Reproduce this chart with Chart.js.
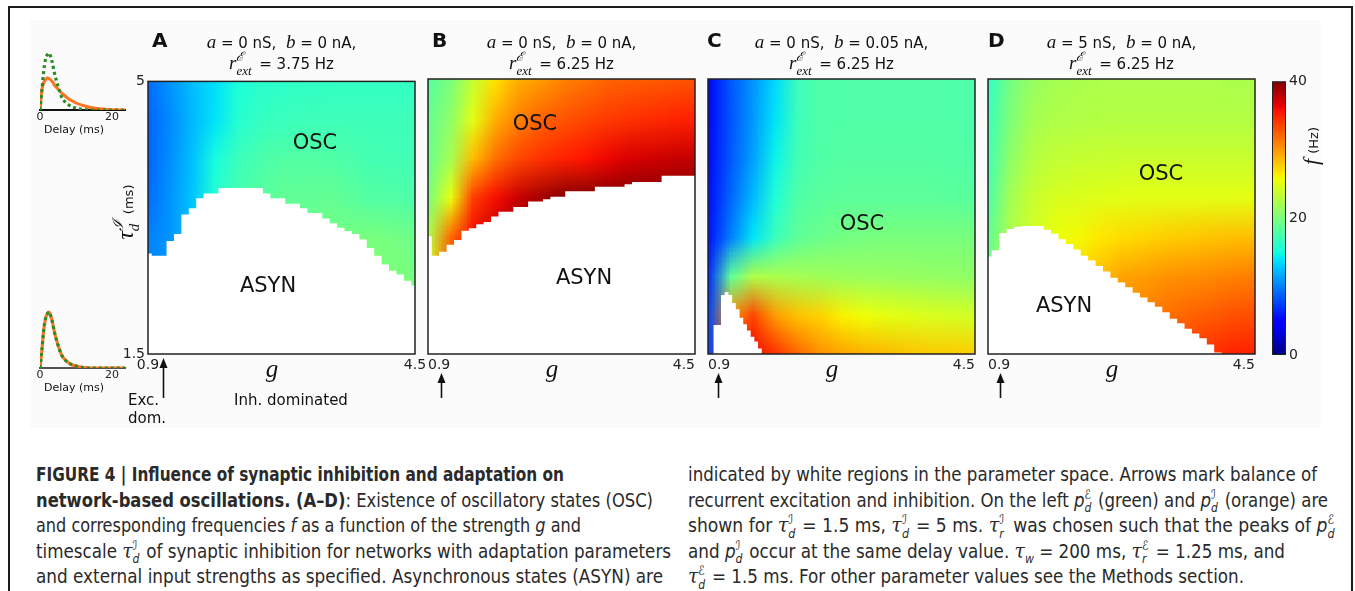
<!DOCTYPE html>
<html>
<head>
<meta charset="utf-8">
<script src="https://cdn.jsdelivr.net/npm/chart.js"></script>
<style>
  body { margin:0; background:#fff; font-family:'DejaVu Sans', sans-serif; color:#111; }
  #page { position:relative; width:1355px; height:591px; overflow:hidden; }
  #frame { position:absolute; left:8px; top:6px; width:1341px; height:640px; border:2px solid #1a1a1a; }
  #figbg { position:absolute; left:30px; top:20px; width:1291px; height:408px; background:#fbfbfb; }
  .t { position:absolute; white-space:nowrap; }
  .c { transform:translate(-50%,-50%); }
  .m { font-family:'Liberation Serif','DejaVu Serif',serif; font-style:italic; }
  .letter { font-weight:bold; font-size:20px; line-height:22px; }
  .title { font-size:15px; line-height:21px; text-align:center; width:267px; }
  .title .m { font-size:19px; }
  .region { font-size:21px; }
  .ssb { position:relative; display:inline-block; height:1em; vertical-align:baseline; }
  .ssb .up { position:absolute; left:0; bottom:0.45em; line-height:1; }
  .ssb .dn { position:absolute; left:0; top:0.6em; line-height:1; }
  .title .ssb .m { font-size:inherit; }
  .cap { position:absolute; white-space:nowrap; font-family:'Liberation Sans Narrow','DejaVu Sans Condensed',sans-serif;
         font-size:20px; line-height:26px; color:#2a2a2a; transform-origin:0 50%; }
  canvas { position:absolute; }
</style>
</head>
<body>
<div id="page">
  <div id="figbg"></div>
  <div id="frame"></div>
</div>
<script>
// grid of the frequency maps (g across, tau_d^I down)
const gCols = [0.9, 1.2, 1.5, 1.8, 2.1, 2.4, 2.7, 3.0, 3.3, 3.6, 3.9, 4.2, 4.5];
const tauRows = [5.0, 4.5, 4.0, 3.5, 3.0, 2.5, 2.0, 1.5];

// f (Hz), one row per tau value
const freqA = [
  [9.3, 10.9, 12.5, 13.8, 15.4, 16.0, 16.2, 16.4, 16.4, 16.5, 16.5, 16.5, 16.5],
  [9.0, 10.5, 12.3, 14.0, 15.8, 16.6, 16.8, 17.0, 17.0, 17.0, 17.0, 17.0, 17.0],
  [9.0, 10.7, 12.6, 15.2, 16.8, 17.6, 18.0, 18.1, 18.0, 17.7, 17.3, 17.2, 17.2],
  [9.3, 10.9, 12.8, 15.8, 17.5, 18.3, 18.8, 18.7, 18.9, 18.5, 18.1, 18.0, 17.8],
  [10.1, 10.9, 12.8, 15.0, 17.0, 18.5, 19.0, 19.3, 19.6, 19.7, 19.9, 19.7, 19.3],
  [10.5, 11.0, 13.0, 15.0, 17.0, 18.5, 19.0, 19.5, 19.8, 20.0, 20.2, 20.1, 19.8],
  [10.5, 11.0, 13.0, 15.0, 17.0, 18.5, 19.0, 19.5, 19.8, 20.0, 20.2, 20.1, 19.8],
  [10.5, 11.0, 13.0, 15.0, 17.0, 18.5, 19.0, 19.5, 19.8, 20.0, 20.2, 20.1, 19.8]
];
const freqB = [
  [18.3, 20.0, 23.6, 26.8, 29.0, 29.8, 30.9, 31.5, 32.2, 32.4, 32.6, 32.8, 33.0],
  [19.0, 21.0, 25.0, 29.0, 30.9, 32.2, 32.8, 33.4, 33.9, 34.3, 34.6, 34.9, 35.1],
  [19.3, 22.0, 28.5, 31.7, 33.4, 34.3, 35.0, 35.5, 36.2, 36.9, 37.2, 37.5, 37.7],
  [20.0, 25.3, 33.8, 35.8, 37.5, 38.7, 39.7, 40.0, 40.0, 40.0, 40.0, 40.0, 40.0],
  [22.8, 32.0, 36.0, 38.0, 39.5, 40.0, 40.0, 40.0, 40.0, 40.0, 40.0, 40.0, 40.0],
  [25.5, 34.0, 37.0, 39.0, 40.0, 40.0, 40.0, 40.0, 40.0, 40.0, 40.0, 40.0, 40.0],
  [25.5, 34.0, 37.0, 39.0, 40.0, 40.0, 40.0, 40.0, 40.0, 40.0, 40.0, 40.0, 40.0],
  [25.5, 34.0, 37.0, 39.0, 40.0, 40.0, 40.0, 40.0, 40.0, 40.0, 40.0, 40.0, 40.0]
];
const freqC = [
  [5.2, 8.5, 10.9, 13.6, 16.9, 17.8, 17.9, 17.9, 17.9, 17.9, 17.9, 17.9, 17.8],
  [5.3, 8.3, 11.0, 14.0, 16.9, 17.8, 17.9, 17.9, 17.9, 17.9, 17.9, 17.9, 17.8],
  [5.4, 8.5, 11.3, 14.6, 17.2, 17.9, 18.1, 18.1, 18.1, 18.1, 18.1, 18.0, 17.9],
  [5.6, 9.0, 12.3, 15.6, 17.9, 18.3, 18.5, 18.5, 18.5, 18.5, 18.5, 18.4, 18.3],
  [5.8, 10.0, 14.0, 16.8, 18.6, 19.2, 19.6, 19.8, 19.9, 19.9, 19.9, 19.9, 19.9],
  [6.8, 18.5, 22.5, 22.3, 22.0, 21.8, 21.6, 21.5, 21.4, 21.3, 21.2, 21.1, 21.0],
  [7.7, 30.0, 33.5, 29.8, 28.2, 27.5, 26.2, 25.6, 25.2, 24.9, 24.6, 24.4, 24.2],
  [8.0, 36.0, 36.0, 34.4, 32.2, 30.4, 29.6, 29.0, 28.6, 28.2, 27.9, 27.8, 27.6]
];
const freqD = [
  [16.5, 19.8, 21.3, 22.0, 22.3, 22.4, 22.4, 22.4, 22.4, 22.4, 22.4, 22.3, 22.3],
  [17.0, 20.2, 22.0, 22.5, 22.6, 22.7, 22.7, 22.7, 22.7, 22.7, 22.7, 22.7, 22.7],
  [17.4, 21.0, 22.8, 23.4, 23.6, 23.7, 23.8, 23.8, 23.8, 23.8, 23.8, 23.8, 23.8],
  [17.9, 22.0, 23.7, 24.5, 24.7, 24.9, 25.0, 25.1, 25.1, 25.1, 25.1, 25.1, 25.2],
  [18.9, 22.5, 24.2, 25.5, 25.8, 26.6, 27.1, 27.4, 27.7, 27.9, 28.1, 28.3, 28.3],
  [19.5, 23.0, 24.8, 26.0, 27.0, 28.3, 29.5, 29.8, 30.2, 30.4, 30.6, 30.9, 31.1],
  [20.0, 23.5, 25.5, 27.0, 28.0, 29.0, 30.0, 31.0, 31.7, 32.2, 32.6, 33.0, 33.2],
  [20.5, 24.0, 26.0, 28.0, 29.0, 30.0, 31.0, 32.0, 33.0, 34.0, 34.5, 35.0, 35.2]
];

// upper edge of the asynchronous (white) region, tau_d^I per g
const gEdge = [0.9, 1.0, 1.1, 1.2, 1.3, 1.4, 1.5, 1.6, 1.7, 1.8, 1.9, 2.0, 2.1, 2.2, 2.3, 2.4, 2.5, 2.6, 2.7,
               2.8, 2.9, 3.0, 3.1, 3.2, 3.3, 3.4, 3.5, 3.6, 3.7, 3.8, 3.9, 4.0, 4.1, 4.2, 4.3, 4.4, 4.5];
const asynA = [2.79, 2.76, 2.76, 2.95, 3.04, 3.29, 3.37, 3.50, 3.56, 3.56, 3.63, 3.63, 3.63, 3.63, 3.63, 3.63, 3.56, 3.50, 3.50,
               3.43, 3.43, 3.37, 3.31, 3.31, 3.24, 3.18, 3.12, 3.08, 3.04, 2.97, 2.86, 2.76, 2.65, 2.57, 2.52, 2.44, 2.38];
const asynB = [3.00, 2.75, 2.80, 2.89, 2.95, 3.07, 3.10, 3.15, 3.18, 3.25, 3.31, 3.31, 3.37, 3.37, 3.44, 3.44, 3.47, 3.50, 3.50,
               3.57, 3.57, 3.57, 3.57, 3.63, 3.63, 3.63, 3.63, 3.66, 3.69, 3.69, 3.69, 3.69, 3.77, 3.77, 3.77, 3.77, 3.77];
const asynD = [2.74, 2.82, 3.04, 3.09, 3.12, 3.13, 3.13, 3.13, 3.08, 3.03, 2.96, 2.90, 2.83, 2.75, 2.69, 2.62, 2.55, 2.47, 2.41,
               2.35, 2.28, 2.22, 2.16, 2.10, 2.03, 1.95, 1.89, 1.82, 1.76, 1.70, 1.62, 1.52, 1.50, 1.50, 1.50, 1.50, 1.50];
// panel C has only a small white tongue near low g, read at a finer step
const gEdgeC = [0.9, 0.95, 1.0, 1.05, 1.1, 1.15, 1.2, 1.25, 1.3, 1.35, 1.4, 1.45, 1.5, 1.55, 1.6, 1.65, 1.7, 4.5];
const asynC = [1.50, 1.50, 1.87, 1.87, 2.25, 2.29, 2.25, 2.15, 2.07, 1.96, 1.88, 1.80, 1.72, 1.66, 1.57, 1.50, 1.50, 1.50];

// g where excitation and inhibition balance (arrows)
const balanceG = [1.10, 1.075, 1.035, 1.06];

const xTicks = [0.9, 4.5];
const yTicks = [1.5, 5];
const cbTicks = [0, 20, 40];

// delay distributions of the two insets (relative units)
const delayT = [0, 0.5, 1, 1.5, 2, 2.5, 3, 3.5, 4, 5, 6, 7, 8, 9, 10, 12, 14, 16, 18, 20, 23.6];
const pExcTop = [0, 18, 38, 50, 55, 57, 53, 46, 37, 24, 13, 8, 5, 3, 2, 0.5, 0, 0, 0, 0, 0];
const pInhTop = [0, 20, 27, 30, 32, 31.5, 30, 28, 25, 21, 17, 14, 11, 9, 7, 4.5, 2.5, 1.5, 0.7, 0.3, 0];
const pExcBot = [0, 17, 37, 49, 54, 56, 52, 45, 36, 23, 13, 8, 5, 3, 2, 0.5, 0, 0, 0, 0, 0];
const pInhBot = [0, 17, 37, 49, 54, 56, 52, 45, 36, 23, 13, 8, 5, 3, 2, 0.5, 0, 0, 0, 0, 0];

Chart.defaults.font.family = 'DejaVu Sans';
Chart.defaults.color = '#222';

const page = document.getElementById('page');

function interp(pts, t) {
  for (let i = 1; i < pts.length; i++) {
    if (t <= pts[i][0]) {
      const [t0, v0] = pts[i - 1], [t1, v1] = pts[i];
      return v0 + (v1 - v0) * (t - t0) / (t1 - t0);
    }
  }
  return pts[pts.length - 1][1];
}
const JR = [[0, 0], [0.35, 0], [0.66, 1], [0.89, 1], [1, 0.5]];
const JG = [[0, 0], [0.125, 0], [0.375, 1], [0.64, 1], [0.91, 0], [1, 0]];
const JB = [[0, 0.5], [0.11, 1], [0.34, 1], [0.65, 0], [1, 0]];
function jet(t) {
  t = Math.max(0, Math.min(1, t));
  return [interp(JR, t), interp(JG, t), interp(JB, t)].map(v => Math.round(v * 255));
}

function addCanvas(left, top, w, h) {
  const c = document.createElement('canvas');
  c.width = w; c.height = h;
  c.style.left = left + 'px'; c.style.top = top + 'px';
  c.style.width = w + 'px'; c.style.height = h + 'px';
  page.appendChild(c);
  return c;
}

function heatPlugin(p) {
  return {
    id: 'heat',
    beforeDatasetsDraw(chart) {
      const { ctx, chartArea: a, scales: { x, y } } = chart;
      const off = document.createElement('canvas');
      off.width = gCols.length; off.height = tauRows.length;
      const octx = off.getContext('2d');
      const img = octx.createImageData(off.width, off.height);
      p.freq.forEach((row, i) => row.forEach((f, j) => {
        const c = jet(f / 40), k = (i * off.width + j) * 4;
        img.data[k] = c[0]; img.data[k + 1] = c[1]; img.data[k + 2] = c[2]; img.data[k + 3] = 255;
      }));
      octx.putImageData(img, 0, 0);
      const cw = x.getPixelForValue(gCols[1]) - x.getPixelForValue(gCols[0]);
      const ch = y.getPixelForValue(tauRows[1]) - y.getPixelForValue(tauRows[0]);
      ctx.save();
      ctx.beginPath();
      ctx.rect(a.left, a.top, a.right - a.left, a.bottom - a.top);
      ctx.clip();
      ctx.imageSmoothingEnabled = true;
      ctx.imageSmoothingQuality = 'low';
      ctx.drawImage(off, x.getPixelForValue(gCols[0]) - cw / 2, y.getPixelForValue(tauRows[0]) - ch / 2,
                    cw * gCols.length, ch * tauRows.length);
      ctx.restore();
    },
    afterDatasetsDraw(chart) {
      const { ctx, chartArea: a, scales: { x } } = chart;
      ctx.save();
      ctx.strokeStyle = '#222';
      ctx.lineWidth = 1.5;
      ctx.strokeRect(a.left, a.top, a.right - a.left, a.bottom - a.top);
      // balance arrow
      const ax = Math.round(x.getPixelForValue(p.bal)) + 0.5;
      const tip = p.arrowTop - p.top, end = 398 - p.top;
      ctx.strokeStyle = '#111';
      ctx.lineWidth = 1.6;
      ctx.beginPath(); ctx.moveTo(ax, tip + 6); ctx.lineTo(ax, end); ctx.stroke();
      ctx.fillStyle = '#111';
      ctx.beginPath(); ctx.moveTo(ax, tip); ctx.lineTo(ax - 4, tip + 10); ctx.lineTo(ax + 4, tip + 10); ctx.closePath(); ctx.fill();
      ctx.restore();
    }
  };
}

const panels = [
  { left: 148, freq: freqA, edgeG: gEdge, asyn: asynA, bal: balanceG[0], arrowTop: 358, align: 'center', showY: true },
  { left: 428, freq: freqB, edgeG: gEdge, asyn: asynB, bal: balanceG[1], arrowTop: 373, align: 'inner', showY: false },
  { left: 708, freq: freqC, edgeG: gEdgeC, asyn: asynC, bal: balanceG[2], arrowTop: 373, align: 'inner', showY: false },
  { left: 988, freq: freqD, edgeG: gEdge, asyn: asynD, bal: balanceG[3], arrowTop: 373, align: 'inner', showY: false }
];

panels.forEach(p => {
  p.top = 70;
  const cv = addCanvas(p.left - 35, p.top, 317, 340);
  new Chart(cv, {
    type: 'line',
    data: {
      datasets: [{
        data: p.edgeG.map((g, i) => ({ x: g, y: p.asyn[i] })),
        stepped: 'middle',
        fill: 'start',
        backgroundColor: '#ffffff',
        borderColor: 'rgba(0,0,0,0)',
        borderWidth: 1,
        pointRadius: 0
      }]
    },
    options: {
      responsive: false,
      animation: false,
      events: [],
      layout: { padding: { top: 9, right: 15, left: 0, bottom: 0 } },
      plugins: { legend: { display: false }, tooltip: { enabled: false } },
      scales: {
        x: {
          type: 'linear', min: 0.9, max: 4.5,
          grid: { display: false, drawTicks: false },
          border: { display: false },
          afterBuildTicks: s => { s.ticks = xTicks.map(v => ({ value: v })); },
          afterFit: s => { s.height = 56; },
          ticks: { padding: 3, align: p.align, maxRotation: 0, autoSkip: false,
                   font: { size: 14 }, color: '#222', callback: v => String(v) }
        },
        y: {
          type: 'linear', min: 1.5, max: 5,
          grid: { display: false, drawTicks: false },
          border: { display: false },
          afterBuildTicks: s => { s.ticks = yTicks.map(v => ({ value: v })); },
          afterFit: s => { s.width = 35; },
          ticks: { display: p.showY, padding: 3, font: { size: 14 }, color: '#222', callback: v => String(v) }
        }
      }
    },
    plugins: [heatPlugin(p)]
  });
});

// colour bar
const cbCanvas = addCanvas(1272, 70, 60, 300);
new Chart(cbCanvas, {
  type: 'bar',
  data: {
    labels: [''],
    datasets: [{
      data: [[cbTicks[0], cbTicks[cbTicks.length - 1]]],
      barPercentage: 1, categoryPercentage: 1, borderWidth: 0,
      backgroundColor: c => {
        const a = c.chart.chartArea;
        if (!a) return '#888';
        const gr = c.chart.ctx.createLinearGradient(0, a.bottom, 0, a.top);
        for (let i = 0; i <= 100; i++) {
          const col = jet(i / 100);
          gr.addColorStop(i / 100, `rgb(${col[0]},${col[1]},${col[2]})`);
        }
        return gr;
      }
    }]
  },
  options: {
    responsive: false, animation: false, events: [],
    layout: { padding: { top: 9, bottom: 15, left: 0, right: 0 } },
    plugins: { legend: { display: false }, tooltip: { enabled: false } },
    scales: {
      x: { display: false },
      y: {
        position: 'right', min: 0, max: 40,
        grid: { display: false, drawTicks: false },
        border: { display: false },
        afterBuildTicks: s => { s.ticks = cbTicks.map(v => ({ value: v })); },
        afterFit: s => { s.width = 46; },
        ticks: { padding: 3, font: { size: 14 }, color: '#222' }
      }
    }
  },
  plugins: [{
    id: 'cbBorder',
    afterDatasetsDraw(chart) {
      const { ctx, chartArea: a } = chart;
      ctx.save(); ctx.strokeStyle = '#222'; ctx.lineWidth = 1;
      ctx.strokeRect(a.left + 0.5, a.top + 0.5, a.right - a.left - 1, a.bottom - a.top - 1);
      ctx.restore();
    }
  }]
});

// delay distribution insets
function inset(top, pE, pI, axisColor) {
  const cv = addCanvas(30, top, 100, 80);
  new Chart(cv, {
    type: 'line',
    data: {
      datasets: [
        { data: delayT.map((t, i) => ({ x: t, y: pE[i] })), borderColor: '#2b8a24', borderWidth: 3.2,
          borderDash: [3, 3], pointRadius: 0, cubicInterpolationMode: 'monotone' },
        { data: delayT.map((t, i) => ({ x: t, y: pI[i] })), borderColor: '#ff7420', borderWidth: 3,
          pointRadius: 0, cubicInterpolationMode: 'monotone' }
      ]
    },
    options: {
      responsive: false, animation: false, events: [],
      layout: { padding: { top: 5, left: 10, right: 5, bottom: 0 } },
      plugins: { legend: { display: false }, tooltip: { enabled: false } },
      scales: {
        x: {
          type: 'linear', min: 0, max: 23.6,
          grid: { display: false, drawTicks: false },
          border: { display: true, color: axisColor, width: 2 },
          afterBuildTicks: s => { s.ticks = [0, 20].map(v => ({ value: v })); },
          afterFit: s => { s.height = 15; },
          ticks: { padding: 1, font: { size: 11 }, color: '#222', maxRotation: 0 }
        },
        y: { display: false, min: 0, max: 60 }
      }
    }
  });
}
inset(45, pExcTop, pInhTop, '#111');
inset(303, pExcBot, pInhBot, '#555');

// text
function txt(html, x, y, cls, extra) {
  const d = document.createElement('div');
  d.className = 't ' + (cls || '');
  d.innerHTML = html;
  d.style.left = x + 'px'; d.style.top = y + 'px';
  if (extra) d.style.cssText += extra;
  page.appendChild(d);
  return d;
}
// stacked super/subscript that does not disturb the line box
const ss = (sup, sub, w, fs) =>
  `<span class="ssb" style="width:${w}px;font-size:${fs}px"><span class="up">${sup}</span><span class="dn">${sub}</span></span>`;
const sc = 'ℰ', si = 'ℐ';

const titles = [
  ['A', 152, '0 nS', '0 nA', '3.75'],
  ['B', 432, '0 nS', '0 nA', '6.25'],
  ['C', 707, '0 nS', '0.05 nA', '6.25'],
  ['D', 988, '5 nS', '0 nA', '6.25']
];
titles.forEach((t, i) => {
  txt(t[0], t[1], 29, 'letter');
  txt(`<span class="m">a</span> = ${t[2]},&nbsp; <span class="m">b</span> = ${t[3]},`, panels[i].left, 31, 'title');
  txt(`<span class="m">r</span>${ss(`<span class="m">${sc}</span>`, '<span class="m">ext</span>', 18, 13)} = ${t[4]} Hz`,
      panels[i].left, 52, 'title');
});

[['OSC', 315, 142], ['ASYN', 268, 285], ['OSC', 535, 123], ['ASYN', 584, 277], ['OSC', 862, 223],
 ['OSC', 1161, 173], ['ASYN', 1064, 305]].forEach(r => txt(r[0], r[1], r[2], 'region c'));

panels.forEach(p => txt('g', p.left + 124, 369, 'm c', 'font-size:25px;'));

txt('Exc.', 128, 391, '', 'font-size:15px;');
txt('dom.', 128, 409, '', 'font-size:15px;');
txt('Inh. dominated', 291, 400, 'c', 'font-size:15px;');

txt(`<span class="m" style="font-size:23px">τ</span>${ss(`<span class="m">${si}</span>`, '<span class="m">d</span>', 12, 15)} <span style="font-size:13px">(ms)</span>`,
    126, 212, '', 'transform:translate(-50%,-50%) rotate(-90deg);');
txt(`<span class="m" style="font-size:22px">f</span> <span style="font-size:13px">(Hz)</span>`,
    1311, 146, '', 'transform:translate(-50%,-50%) rotate(-90deg);');

txt('Delay (ms)', 74, 129, 'c', 'font-size:11px;');
txt('Delay (ms)', 74, 387, 'c', 'font-size:11px;');

// caption
const tv = (sup, sub) => `<span style="font-family:'DejaVu Serif',serif;font-style:italic">τ</span>${ss(sup, `<i>${sub}</i>`, 9, 13)}`;
const pv = sup => `<i>p</i>${ss(sup, '<i>d</i>', 9, 13)}`;
const capLines = [
  [36, 474, 528, '<b>FIGURE 4 | Influence of synaptic inhibition and adaptation on</b>'],
  [36, 499.5, 617, '<b>network-based oscillations. (A–D)</b>: Existence of oscillatory states (OSC)'],
  [36, 525, 545, 'and corresponding frequencies <i>f</i> as a function of the strength <i>g</i> and'],
  [36, 550.5, 635, `timescale ${tv(si, 'd')} of synaptic inhibition for networks with adaptation parameters`],
  [36, 576, 627, 'and external input strengths as specified. Asynchronous states (ASYN) are'],
  [688, 474, 629, 'indicated by white regions in the parameter space. Arrows mark balance of'],
  [688, 499.5, 640, `recurrent excitation and inhibition. On the left ${pv(sc)} (green) and ${pv(si)} (orange) are`],
  [688, 525, 648, `shown for ${tv(si, 'd')} = 1.5 ms, ${tv(si, 'd')} = 5 ms. ${tv(si, 'r')} was chosen such that the peaks of ${pv(sc)}`],
  [688, 550.5, 597, `and ${pv(si)} occur at the same delay value. <span style="font-family:'DejaVu Serif',serif;font-style:italic">τ</span><sub style="font-size:13px"><i>w</i></sub> = 200 ms, ${tv(sc, 'r')} = 1.25 ms, and`],
  [688, 576, 556, `${tv(sc, 'd')} = 1.5 ms. For other parameter values see the Methods section.`]
];
capLines.forEach(l => {
  const d = document.createElement('div');
  d.className = 'cap';
  d.innerHTML = l[3];
  d.style.left = l[0] + 'px';
  d.style.top = (l[1] - 13) + 'px';
  page.appendChild(d);
  const w = d.getBoundingClientRect().width;
  d.style.transform = `scaleX(${l[2] / w})`;
});
</script>
</body>
</html>
